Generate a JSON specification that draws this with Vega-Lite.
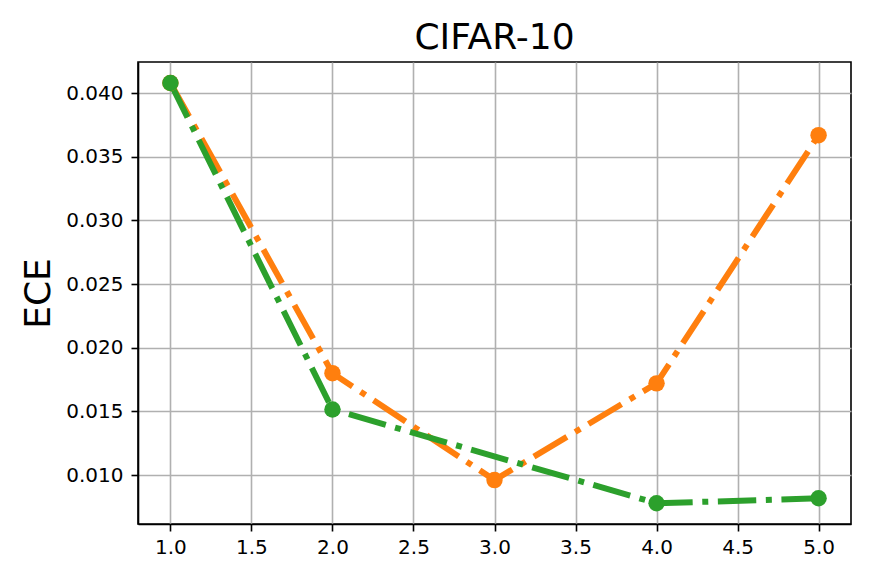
{
  "$schema": "https://vega.github.io/schema/vega-lite/v6.json",
  "width": 713,
  "height": 462,
  "autosize": "none",
  "padding": {"left": 138, "top": 62, "right": 21, "bottom": 57},
  "background": "white",
  "title": {"text": "CIFAR-10", "fontSize": 36, "font": "DejaVu Sans", "fontWeight": "normal", "color": "black", "offset": 12, "baseline": "alphabetic", "frame": "group", "dy": 35},
  "config": {
    "view": {"stroke": "black", "strokeWidth": 1.6},
    "axis": {
      "labelFont": "DejaVu Sans", "labelFontSize": 20, "labelColor": "black",
      "titleFont": "DejaVu Sans", "titleFontWeight": "normal", "titleColor": "black",
      "domainColor": "black", "domainWidth": 1.6,
      "tickColor": "black", "tickWidth": 1.6, "tickSize": 7,
      "gridColor": "#b0b0b0", "gridWidth": 1.6, "gridOpacity": 1
    }
  },
  "data": {"values": [
    {"x": 1.0, "ece": 0.0408, "s": "A"},
    {"x": 2.0, "ece": 0.0180, "s": "A"},
    {"x": 3.0, "ece": 0.0096, "s": "A"},
    {"x": 4.0, "ece": 0.0172, "s": "A"},
    {"x": 5.0, "ece": 0.0367, "s": "A"},
    {"x": 1.0, "ece": 0.0408, "s": "B"},
    {"x": 2.0, "ece": 0.01515, "s": "B"},
    {"x": 4.0, "ece": 0.00778, "s": "B"},
    {"x": 5.0, "ece": 0.00817, "s": "B"}
  ]},
  "encoding": {
    "x": {"field": "x", "type": "quantitative",
      "scale": {"domain": [0.8, 5.2], "nice": false, "zero": false},
      "axis": {"title": null, "values": [1.0, 1.5, 2.0, 2.5, 3.0, 3.5, 4.0, 4.5, 5.0], "format": ".1f", "labelPadding": 6, "labelFlush": false}},
    "y": {"field": "ece", "type": "quantitative",
      "scale": {"domain": [0.00615, 0.04245], "nice": false, "zero": false},
      "axis": {"title": "ECE", "titleFontSize": 36, "titlePadding": 8, "values": [0.010, 0.015, 0.020, 0.025, 0.030, 0.035, 0.040], "format": ".3f", "labelPadding": 8, "labelFlush": false}},
    "color": {"field": "s", "type": "nominal", "scale": {"domain": ["A", "B"], "range": ["#ff7f0e", "#2ca02c"]}, "legend": null}
  },
  "layer": [
    {"mark": {"type": "line", "strokeWidth": 6, "strokeDash": [38.4, 9.6, 6, 9.6], "strokeCap": "butt"}},
    {"mark": {"type": "point", "filled": true, "opacity": 1, "size": 270}}
  ]
}
